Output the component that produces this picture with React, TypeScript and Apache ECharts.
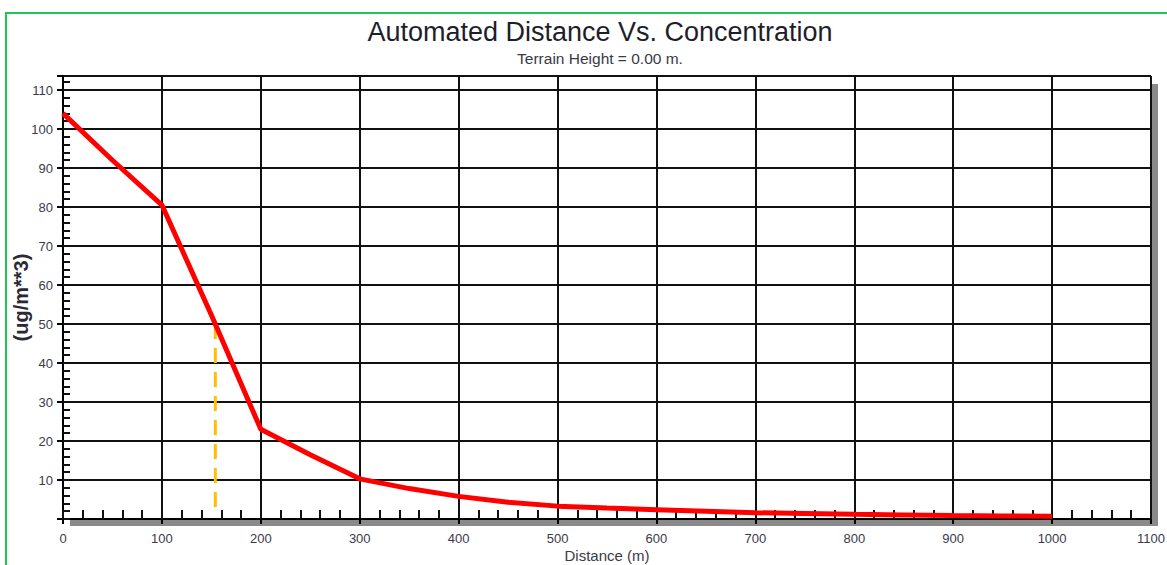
import React, { useEffect, useRef } from "react";
import * as echarts from "echarts";

const distances = [0, 50, 100, 150, 200, 250, 300, 350, 400, 450, 500, 550, 600, 650, 700, 750, 800, 850, 900, 950, 1000];
const concentrations = [104, 92, 80.5, 52.3, 23, 16.5, 10.3, 7.8, 5.8, 4.3, 3.3, 2.8, 2.4, 2.0, 1.6, 1.4, 1.2, 1.05, 0.9, 0.8, 0.7];
const markerX = [154, 154];
const markerY = [50, 2.9];

const titleText = "Automated Distance Vs. Concentration";
const subtitleText = "Terrain Height = 0.00 m.";
const xName = "Distance (m)";
const yName = "(ug/m**3)";

const FONT = "'Liberation Sans', Arial, sans-serif";

export default function App() {
  const ref = useRef<HTMLDivElement>(null);
  useEffect(() => {
    if (!ref.current) return;
    const chart = echarts.init(ref.current, null, { renderer: "svg" });
    const gridLeft = 63, gridTop = 76, gridW = 1088, gridH = 443;
    chart.setOption({
      animation: false,
      backgroundColor: "#ffffff",
      textStyle: { fontFamily: FONT },
      title: [
        {
          text: titleText,
          left: 595,
          top: 13,
          textAlign: "center",
          textStyle: { fontSize: 27, fontWeight: "normal", color: "#1e1e2a", fontFamily: FONT },
        },
        {
          text: subtitleText,
          left: 595,
          top: 45,
          textAlign: "center",
          textStyle: { fontSize: 15.5, fontWeight: "normal", color: "#3a3a48", fontFamily: FONT },
        },
      ],
      grid: { left: gridLeft, top: gridTop, width: gridW, height: gridH, outerBoundsMode: "none", containLabel: false },
      graphic: [
        {
          type: "rect",
          z: 0,
          silent: true,
          shape: { x: 6, y: 13, width: 1200, height: 600 },
          style: { fill: "none", stroke: "#1ec850", lineWidth: 2 },
        },
        {
          type: "rect",
          z: 0,
          silent: true,
          shape: { x: 70, y: 520, width: 1088, height: 6 },
          style: { fill: "#8a8a8a" },
        },
        {
          type: "rect",
          z: 0,
          silent: true,
          shape: { x: 1152, y: 84, width: 6, height: 442 },
          style: { fill: "#8a8a8a" },
        },
      ],
      xAxis: [
        {
          type: "value",
          min: 0,
          max: 1100,
          interval: 100,
          position: "bottom",
          name: xName,
          nameLocation: "middle",
          nameGap: 29,
          nameMoveOverlap: false,
          nameTextStyle: { fontSize: 15, color: "#3a3a48", fontFamily: FONT },
          axisLine: { show: true, onZero: false, lineStyle: { color: "#000", width: 2 } },
          axisTick: { show: true, inside: false, length: 5, lineStyle: { color: "#000", width: 2 } },
          axisLabel: {
            show: true,
            margin: 13,
            fontSize: 13,
            color: "#3a3a48",
            fontFamily: FONT,
            formatter: (v: number) => String(v),
          },
          splitLine: { show: true, lineStyle: { color: "#111", width: 2 } },
        },
        {
          type: "value",
          min: 0,
          max: 1100,
          interval: 20,
          position: "bottom",
          axisLine: { show: false },
          axisTick: { show: true, inside: true, length: 9, lineStyle: { color: "#111", width: 2 } },
          axisLabel: { show: false },
          splitLine: { show: false },
        },
      ],
      yAxis: [
        {
          type: "value",
          min: 0,
          max: 113.6,
          interval: 10,
          position: "left",
          name: yName,
          nameLocation: "middle",
          nameGap: 32,
          nameRotate: 90,
          nameMoveOverlap: false,
          nameTextStyle: { fontSize: 20, fontWeight: "bold", color: "#2a2a36", fontFamily: FONT },
          axisLine: { show: true, onZero: false, lineStyle: { color: "#000", width: 2 } },
          axisTick: { show: true, inside: false, length: 6, lineStyle: { color: "#000", width: 2 } },
          axisLabel: {
            show: true,
            margin: 10,
            fontSize: 13,
            color: "#3a3a48",
            fontFamily: FONT,
            formatter: (v: number) => (v !== 0 && Math.abs(v % 10) < 1e-9 ? String(v) : ""),
          },
          splitLine: { show: true, lineStyle: { color: "#111", width: 2 } },
        },
        {
          type: "value",
          min: 0,
          max: 113.6,
          interval: 2,
          position: "left",
          axisLine: { show: false },
          axisTick: { show: true, inside: true, length: 7, lineStyle: { color: "#111", width: 2 } },
          axisLabel: { show: false },
          splitLine: { show: false },
        },
      ],
      series: [
        {
          type: "line",
          xAxisIndex: 0,
          yAxisIndex: 0,
          data: markerX.map((x, i) => [x, markerY[i]]),
          showSymbol: false,
          symbol: "none",
          lineStyle: { color: "#ffc000", width: 3, type: [15, 9] },
          z: 3,
          silent: true,
        },
        {
          type: "line",
          xAxisIndex: 0,
          yAxisIndex: 0,
          data: distances.map((d, i) => [d, concentrations[i]]),
          showSymbol: false,
          symbol: "none",
          lineStyle: { color: "#ff0000", width: 5 },
          z: 4,
          silent: true,
        },
      ],
    });
    return () => chart.dispose();
  }, []);
  return (
    <div
      ref={ref}
      style={{ position: "absolute", left: 0, top: 0, width: 1167, height: 565 }}
    />
  );
}
